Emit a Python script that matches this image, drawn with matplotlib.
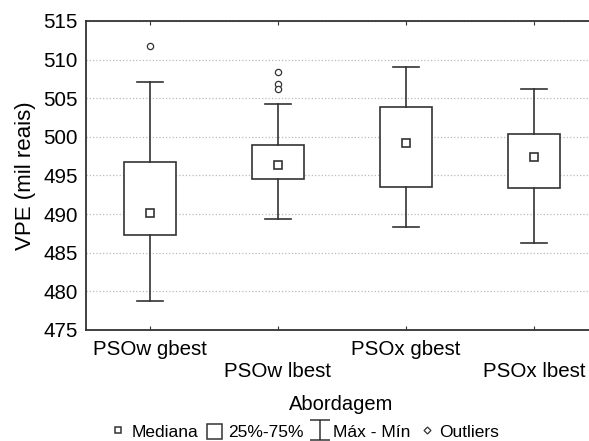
import matplotlib.pyplot as plt
from matplotlib.lines import Line2D
from matplotlib.patches import Patch
from matplotlib.path import Path

plt.rcParams['font.family'] = ['Liberation Sans', 'DejaVu Sans']

categories = ['PSOw gbest', 'PSOw lbest', 'PSOx gbest', 'PSOx lbest']
medians = [490.15, 496.3, 499.25, 497.35]
q1 = [487.25, 494.6, 493.55, 493.4]
q3 = [496.7, 499.0, 503.9, 500.4]
mins = [478.8, 489.4, 488.3, 486.2]
maxs = [507.1, 504.2, 509.1, 506.2]
outliers = [[511.7], [508.4, 506.8, 506.2], [], []]

stats = []
for i, name in enumerate(categories):
    stats.append(dict(med=medians[i], q1=q1[i], q3=q3[i], whislo=mins[i],
                      whishi=maxs[i], fliers=outliers[i], label=name))

fig = plt.figure(figsize=(5.89, 4.41), dpi=100)
ax = fig.add_axes([86/589, 1-330/441, 503/589, 309/441])

pos = list(range(len(categories)))
lc = '#333333'
ax.bxp(stats, positions=pos, widths=0.4, capwidths=0.2, patch_artist=True,
       boxprops=dict(facecolor='white', edgecolor=lc, linewidth=1.2),
       whiskerprops=dict(color=lc, linewidth=1.2),
       capprops=dict(color=lc, linewidth=1.2),
       medianprops=dict(linestyle='none'),
       flierprops=dict(marker='o', markersize=4.5, markerfacecolor='white',
                       markeredgecolor=lc, markeredgewidth=0.9),
       zorder=3)
ax.plot(pos, medians, 's', ms=5.5, mfc='white', mec=lc, mew=1.2, zorder=4)

ax.set_ylim(475, 515)
ax.set_xlim(-0.5, 3.43)
ax.set_yticks(range(475, 516, 5))
ax.yaxis.grid(True, color='#bbbbbb', linestyle=':', linewidth=0.9)
ax.set_axisbelow(True)

labels = [c if i % 2 == 0 else '\n' + c for i, c in enumerate(categories)]
ax.set_xticks(pos)
ax.set_xticklabels(labels, fontsize=14.8, linespacing=1.2)
ax.tick_params(axis='x', direction='in', top=True, length=3, pad=7, color=lc)
ax.tick_params(axis='y', length=0, pad=6, labelsize=14.8)
for s in ['left', 'bottom', 'top']:
    ax.spines[s].set_color(lc)
    ax.spines[s].set_linewidth(1.3)
ax.spines['right'].set_visible(False)

ax.set_ylabel('VPE (mil reais)', fontsize=16, labelpad=5)
fig.text(341/589, 1-405/441, 'Abordagem', fontsize=14.5,
         ha='center', va='center')

ibeam = Path([(-1, 1), (1, 1), (0, 1), (0, -1), (-1, -1), (1, -1)],
             [Path.MOVETO, Path.LINETO, Path.MOVETO, Path.LINETO,
              Path.MOVETO, Path.LINETO])
handles = [
    Line2D([], [], marker='s', ls='none', ms=5, mfc='white', mec=lc, mew=1.1),
    Patch(facecolor='white', edgecolor=lc, linewidth=1.1),
    Line2D([], [], marker=ibeam, ls='none', ms=14, mec=lc, mew=1.1),
    Line2D([], [], marker='D', ls='none', ms=3.5, mfc='white', mec=lc, mew=0.9),
]
fig.legend(handles, ['Mediana', '25%-75%', 'Máx - Mín', 'Outliers'],
           loc='center', bbox_to_anchor=(305/589, 1-432/441), ncol=4, frameon=False,
           fontsize=12.5, handlelength=0.9, handletextpad=0.3, columnspacing=0.5,
           handleheight=1.0)

fig.savefig('out.png', dpi=100)
